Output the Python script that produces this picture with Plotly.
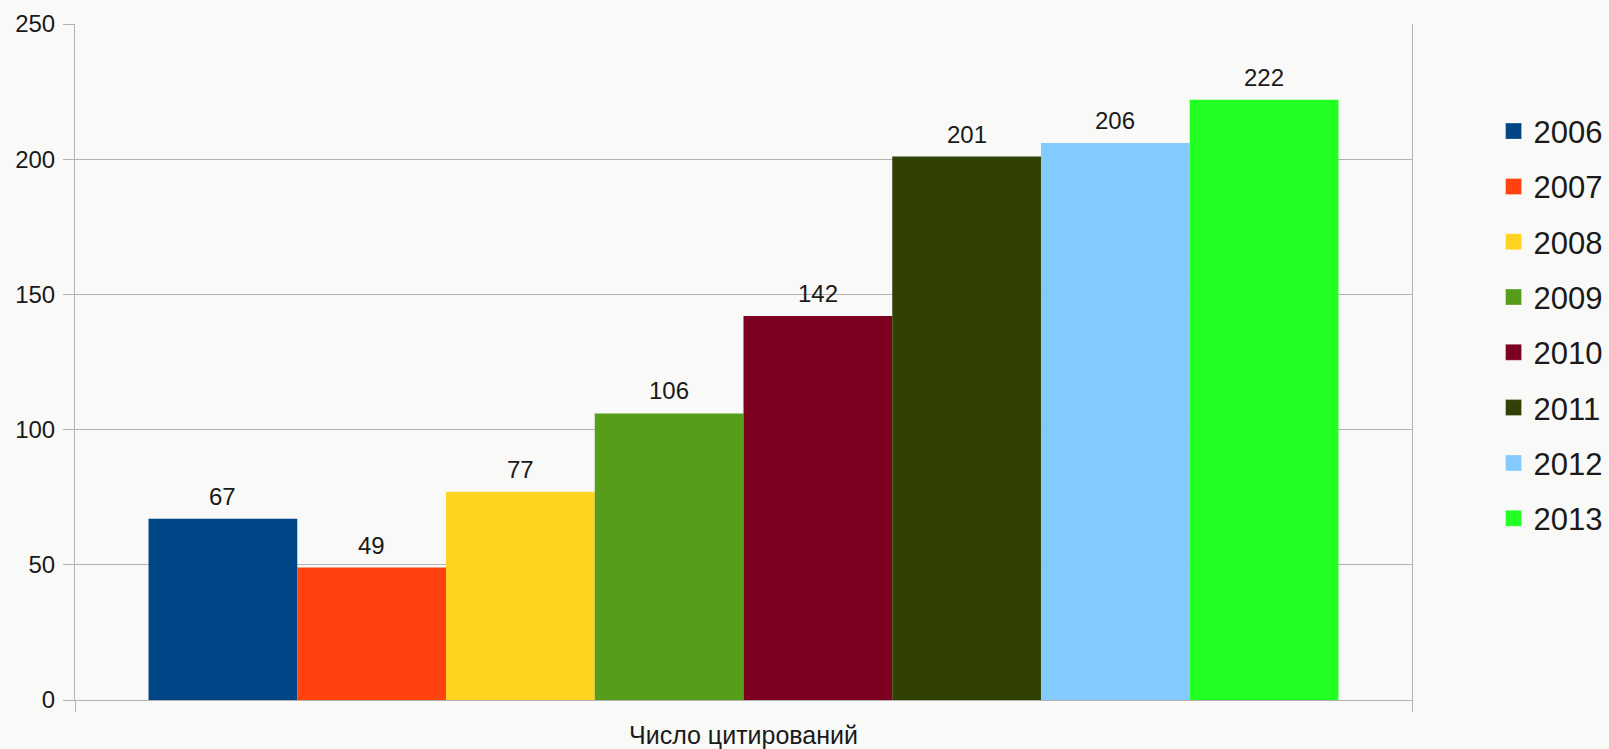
import plotly.graph_objects as go

category = ["Число цитирований"]
years = ["2006", "2007", "2008", "2009", "2010", "2011", "2012", "2013"]
values = [67, 49, 77, 106, 142, 201, 206, 222]
colors = ["#004586", "#ff420e", "#ffd320", "#579d1c", "#7e0021", "#314004", "#83caff", "#22ff22"]

W, H = 1609, 749
ML, MR, MT, MB = 75, 197, 24, 49
BARGAP = 0.11

fig = go.Figure()
for y, v, c in zip(years, values, colors):
    fig.add_trace(go.Bar(
        x=category, y=[v], name=y, legendgroup=y, showlegend=False,
        marker=dict(color=c, line=dict(width=0)),
    ))
    # legend entry with a larger square swatch
    fig.add_trace(go.Scatter(
        x=[None], y=[None], mode="markers", name=y, legendgroup=y,
        marker=dict(symbol="square", size=19, color=c,
                    line=dict(width=0.6, color="rgba(255,255,255,0.5)")),
    ))

# value labels above bars
plot_w = W - ML - MR
bar_px = plot_w * (1 - BARGAP) / len(years)
n = len(years)
for i, v in enumerate(values):
    fig.add_annotation(x=category[0], y=v, xref="x", yref="y",
                       text=str(v), showarrow=False,
                       xshift=(i - (n - 1) / 2) * bar_px, yshift=7,
                       yanchor="bottom", font=dict(size=24, color="#1a1a1a"))

fig.update_layout(
    width=W, height=H,
    margin=dict(l=ML, r=MR, t=MT, b=MB, autoexpand=False),
    paper_bgcolor="#f9f9f7", plot_bgcolor="#f9f9f7",
    font=dict(family="Liberation Sans, Arial, sans-serif", color="#1a1a1a"),
    barmode="group", bargap=BARGAP, bargroupgap=0,
    legend=dict(x=1.061, xanchor="left", y=0.881, yanchor="top",
                font=dict(size=31), tracegroupgap=12, itemsizing="trace",
                bgcolor="rgba(0,0,0,0)"),
    showlegend=True,
)
fig.update_yaxes(range=[0, 250], dtick=50, showgrid=True, gridcolor="#b3b3b3", gridwidth=1,
                 showline=True, mirror=True, linecolor="#b3b3b3", ticks="outside", ticklen=11,
                 tickcolor="#b3b3b3", tickfont=dict(size=24, color="#1a1a1a"),
                 ticklabelstandoff=3, zeroline=False, automargin=False)
fig.update_xaxes(type="category", tickson="boundaries", ticks="outside", ticklen=11,
                 tickcolor="#b3b3b3", showgrid=True, gridcolor="#b3b3b3",
                 showline=True, linecolor="#b3b3b3", tickfont=dict(size=25, color="#1a1a1a"),
                 ticklabelstandoff=13, automargin=False)

fig.write_html("out.html", config={"displayModeBar": False},
               post_script="document.body.style.margin='0';document.body.style.padding='0';")
